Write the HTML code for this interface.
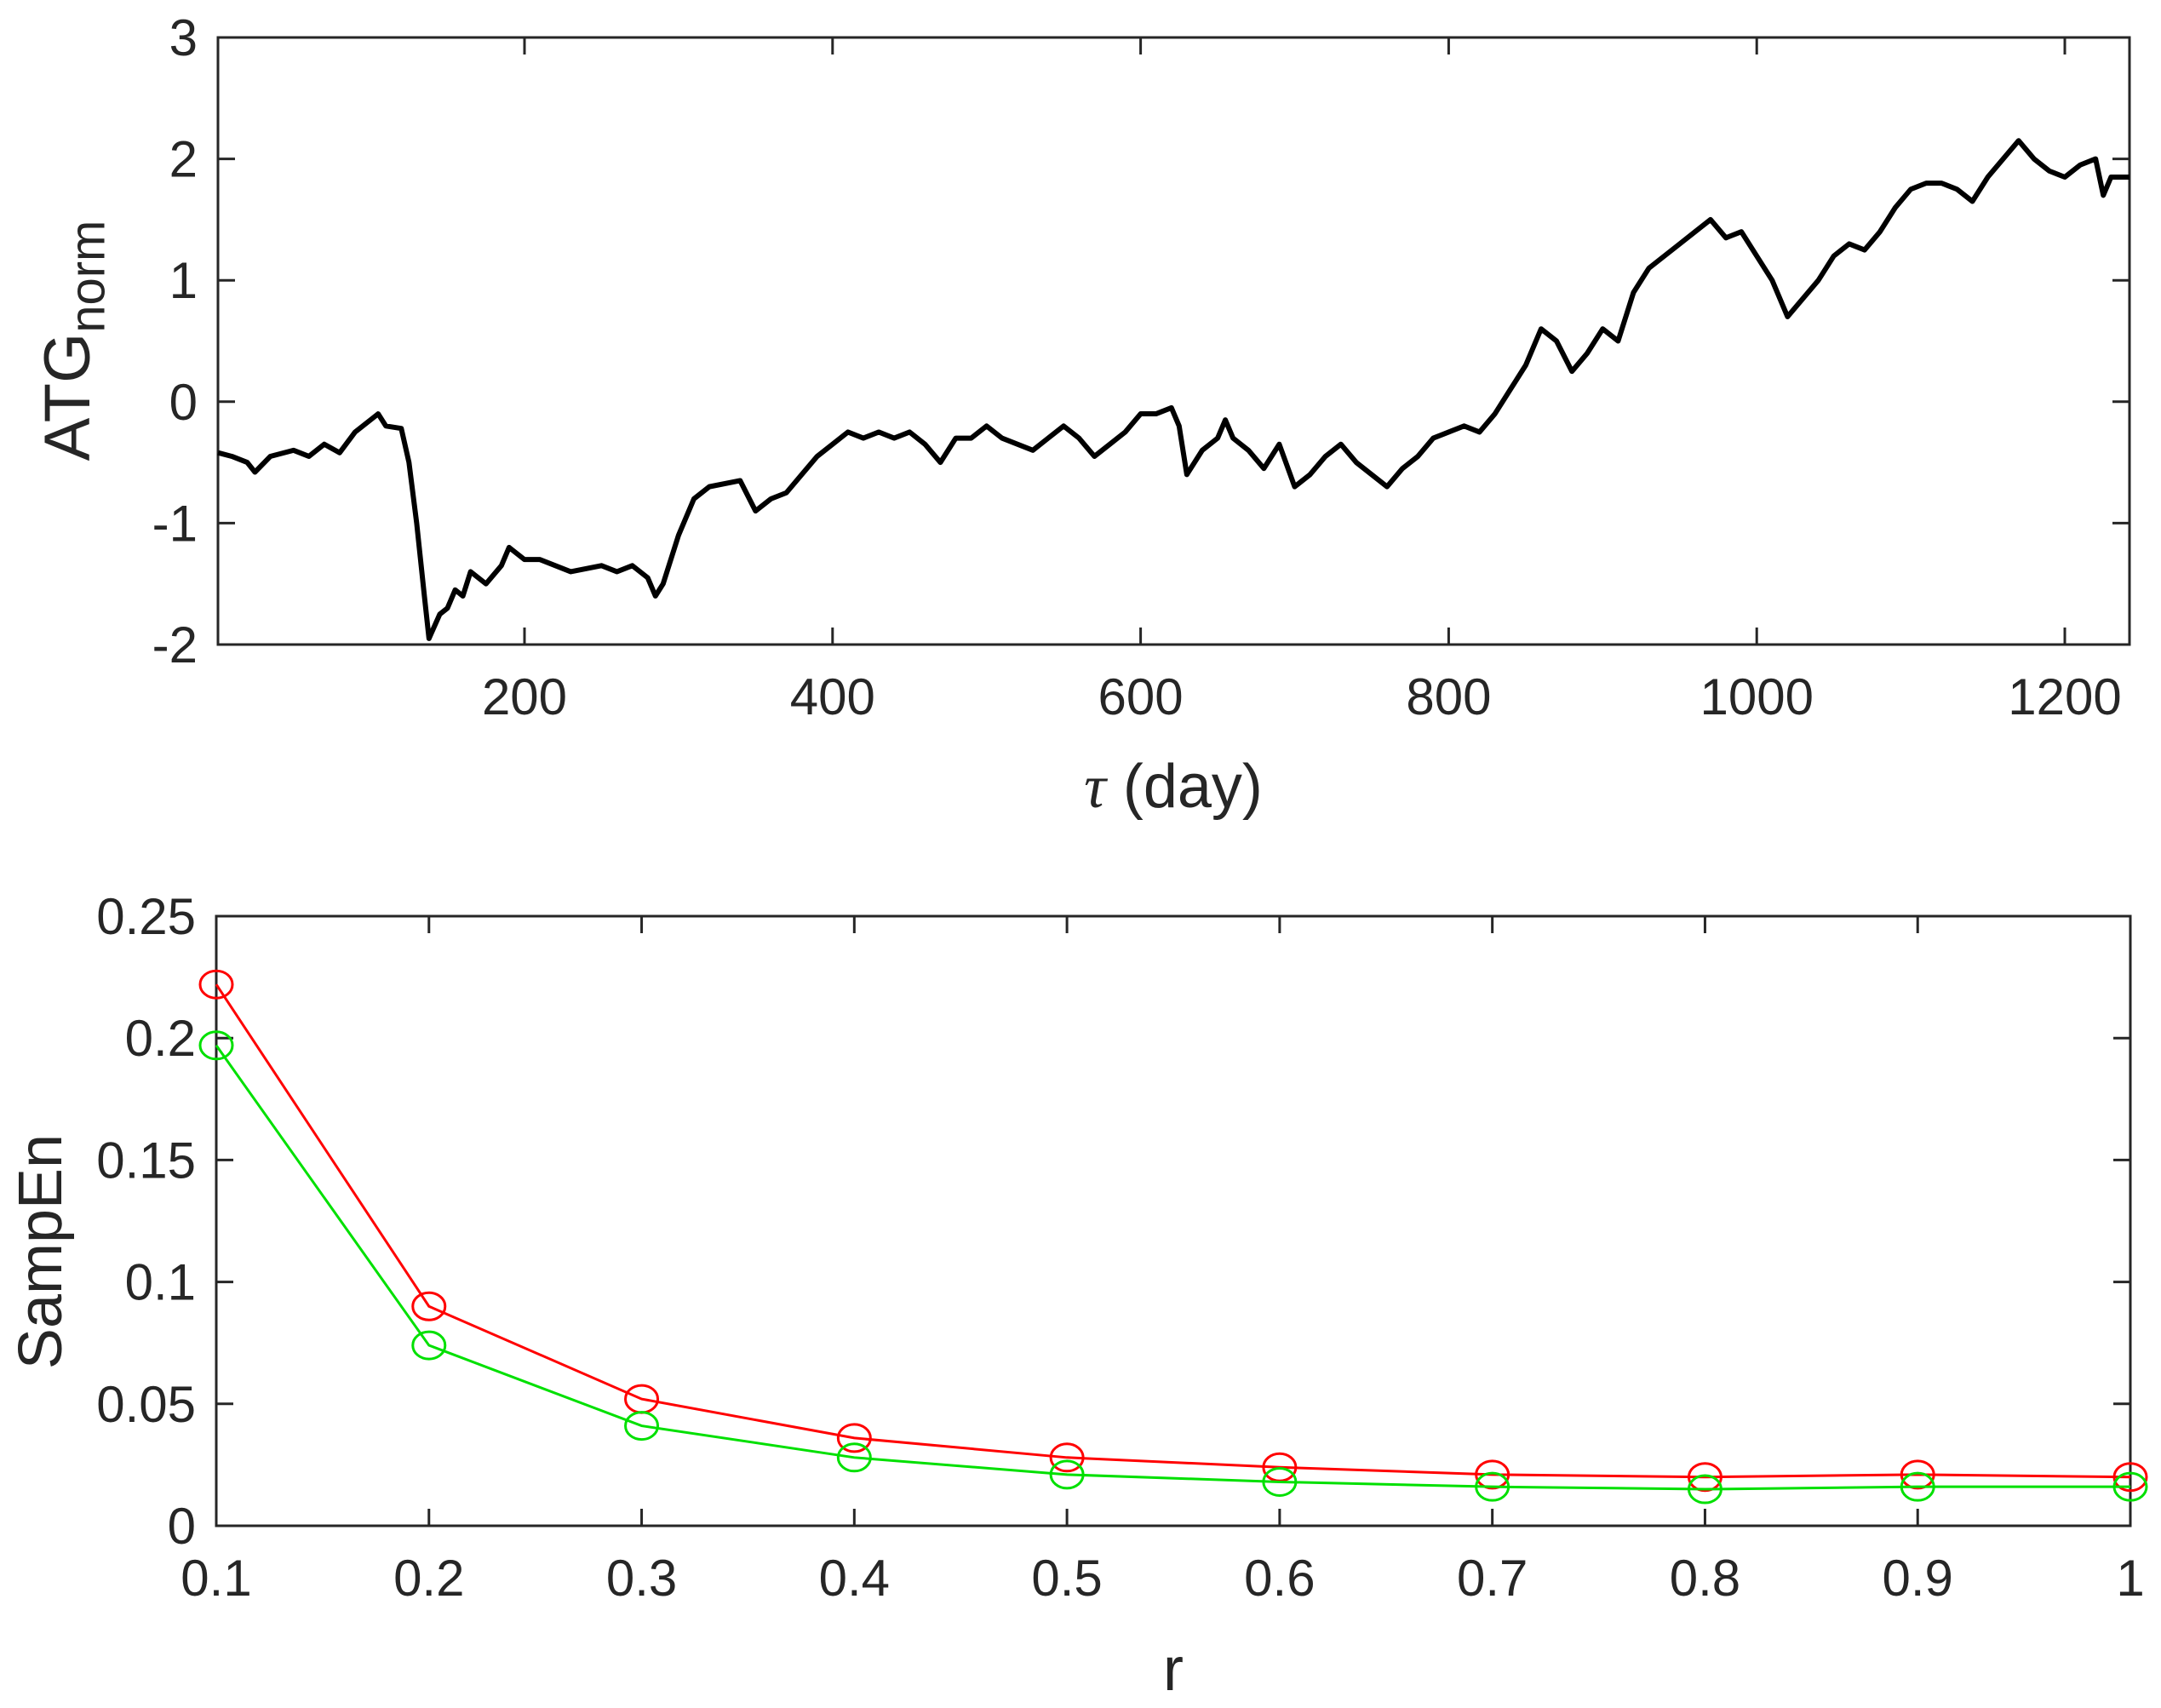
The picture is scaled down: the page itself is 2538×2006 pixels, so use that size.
<!DOCTYPE html>
<html><head><meta charset="utf-8"><style>
html,body{margin:0;padding:0;background:#fff;}
svg{display:block;font-family:"Liberation Sans",Arial,sans-serif;}
</style></head><body>
<svg id="fig" width="2538" height="2006" viewBox="0 0 2538 2006" xmlns="http://www.w3.org/2000/svg">
<g id="top"></g>
<g id="bot"></g>
</svg>
<script>
// ---- top chart data ----
const days = [1,10,20,25,35,50,60,70,80,90,100,105,110,120,125,130,135,138,145,150,155,160,165,175,185,190,200,210,230,250,260,270,280,285,290,300,310,320,340,350,360,370,380,390,400,410,420,430,440,450,460,470,480,490,500,510,520,530,540,550,560,570,580,590,600,610,620,625,630,640,650,655,660,670,680,690,700,710,720,730,740,750,760,770,780,790,800,810,820,830,840,850,860,870,880,890,900,910,920,930,940,950,960,970,980,990,1000,1010,1020,1030,1040,1050,1060,1070,1080,1090,1100,1110,1120,1130,1140,1150,1160,1170,1180,1190,1200,1210,1220,1225,1230,1242];
const atg = [-0.42,-0.45,-0.5,-0.58,-0.45,-0.4,-0.45,-0.35,-0.42,-0.25,-0.15,-0.1,-0.2,-0.22,-0.5,-1.0,-1.6,-1.95,-1.75,-1.7,-1.55,-1.6,-1.4,-1.5,-1.35,-1.2,-1.3,-1.3,-1.4,-1.35,-1.4,-1.35,-1.45,-1.6,-1.5,-1.1,-0.8,-0.7,-0.65,-0.9,-0.8,-0.75,-0.6,-0.45,-0.35,-0.25,-0.3,-0.25,-0.3,-0.25,-0.35,-0.5,-0.3,-0.3,-0.2,-0.3,-0.35,-0.4,-0.3,-0.2,-0.3,-0.45,-0.35,-0.25,-0.1,-0.1,-0.05,-0.2,-0.6,-0.4,-0.3,-0.15,-0.3,-0.4,-0.55,-0.35,-0.7,-0.6,-0.45,-0.35,-0.5,-0.6,-0.7,-0.55,-0.45,-0.3,-0.25,-0.2,-0.25,-0.1,0.1,0.3,0.6,0.5,0.25,0.4,0.6,0.5,0.9,1.1,1.2,1.3,1.4,1.5,1.35,1.4,1.2,1.0,0.7,0.85,1.0,1.2,1.3,1.25,1.4,1.6,1.75,1.8,1.8,1.75,1.65,1.85,2.0,2.15,2.0,1.9,1.85,1.95,2.0,1.7,1.85,1.85];
const topXTicks = [200,400,600,800,1000,1200];
const topYTicks = [-2,-1,0,1,2,3];
// ---- bottom chart data ----
const rVals = [0.1,0.2,0.3,0.4,0.5,0.6,0.7,0.8,0.9,1.0];
const redSeries = [0.222,0.090,0.052,0.036,0.028,0.024,0.021,0.020,0.021,0.020];
const greenSeries = [0.197,0.074,0.041,0.028,0.021,0.018,0.016,0.015,0.016,0.016];
const botXTicks = [0.1,0.2,0.3,0.4,0.5,0.6,0.7,0.8,0.9,1];
const botXLabels = ["0.1","0.2","0.3","0.4","0.5","0.6","0.7","0.8","0.9","1"];
const botYTicks = [0,0.05,0.1,0.15,0.2,0.25];
const botYLabels = ["0","0.05","0.1","0.15","0.2","0.25"];

const NS="http://www.w3.org/2000/svg";
function mk(parent,tag,attrs,text){const e=document.createElementNS(NS,tag);for(const k in attrs)e.setAttribute(k,attrs[k]);if(text!==undefined)e.textContent=text;parent.appendChild(e);return e;}
const FS=60;

function axes(g,L,R,T,B,xs,ys,xt,xl,yt,yl){
  const fr=mk(g,'rect',{x:L,y:T,width:R-L,height:B-T,fill:'none',stroke:'#262626','stroke-width':3});
  
  
  xt.forEach((v,i)=>{const x=xs(v);
    const t1=mk(g,'line',{x1:x,x2:x,y1:B,y2:B-20,stroke:'#262626','stroke-width':3});
    
    
    const t2=mk(g,'line',{x1:x,x2:x,y1:T,y2:T+20,stroke:'#262626','stroke-width':3});
    
    
    const tx=mk(g,'text',{x:x,y:B+82,'text-anchor':'middle','font-size':FS,fill:'#262626'},xl[i]);
    
    
  });
  yt.forEach((v,i)=>{const y=ys(v);
    const t1=mk(g,'line',{x1:L,x2:L+20,y1:y,y2:y,stroke:'#262626','stroke-width':3});
    
    
    const t2=mk(g,'line',{x1:R,x2:R-20,y1:y,y2:y,stroke:'#262626','stroke-width':3});
    
    
    const tx=mk(g,'text',{x:L-24,y:y+21,'text-anchor':'end','font-size':FS,fill:'#262626'},yl[i]);
    
    
  });
}

// top chart
(function(){
  const g=document.getElementById('top');
  const L=256,R=2501,T=44,B=757;
  const xs=v=>L+(v-1)/(1242-1)*(R-L);
  const ys=v=>B-(v+2)/5*(B-T);
  axes(g,L,R,T,B,xs,ys,topXTicks,topXTicks.map(String),topYTicks,topYTicks.map(String));
  const p=mk(g,'polyline',{points:days.map((d,i)=>xs(d)+','+ys(atg[i])).join(' '),fill:'none',stroke:'#000','stroke-width':6,'stroke-linejoin':'round'});
  
  
  const xl=mk(g,'text',{x:1378,y:948,'text-anchor':'middle','font-size':72,fill:'#262626'});
  
  
  mk(xl,'tspan',{'font-family':'"Liberation Serif",serif','font-style':'italic'},'τ');
  mk(xl,'tspan',{},' (day)');
  const yl=mk(g,'text',{transform:'translate(105,400) rotate(-90)','text-anchor':'middle','font-size':76,fill:'#262626'});
  
  
  mk(yl,'tspan',{},'ATG');
  mk(yl,'tspan',{'font-size':58,dy:'0.3em'},'norm');
})();

// bottom chart
(function(){
  const g=document.getElementById('bot');
  const L=254,R=2502,T=1076,B=1792;
  const xs=v=>L+(v-0.1)/0.9*(R-L);
  const ys=v=>B-v/0.25*(B-T);
  axes(g,L,R,T,B,xs,ys,botXTicks,botXLabels,botYTicks,botYLabels);
  [[redSeries,'#ff0000','red-series'],[greenSeries,'#00e000','green-series']].forEach(([s,c,n])=>{
    const p=mk(g,'polyline',{points:rVals.map((r,i)=>xs(r)+','+ys(s[i])).join(' '),fill:'none',stroke:c,'stroke-width':3});
    
    
    rVals.forEach((r,i)=>{
      const m=mk(g,'ellipse',{cx:xs(r),cy:ys(s[i]),rx:19,ry:16,fill:'none',stroke:c,'stroke-width':3});
      
      
    });
  });
  const xl=mk(g,'text',{x:1378,y:1985,'text-anchor':'middle','font-size':72,fill:'#262626'},'r');
  
  
  const yl=mk(g,'text',{transform:'translate(72,1470) rotate(-90)','text-anchor':'middle','font-size':72,fill:'#262626'},'SampEn');
  
  
})();
</script>
</body></html>
